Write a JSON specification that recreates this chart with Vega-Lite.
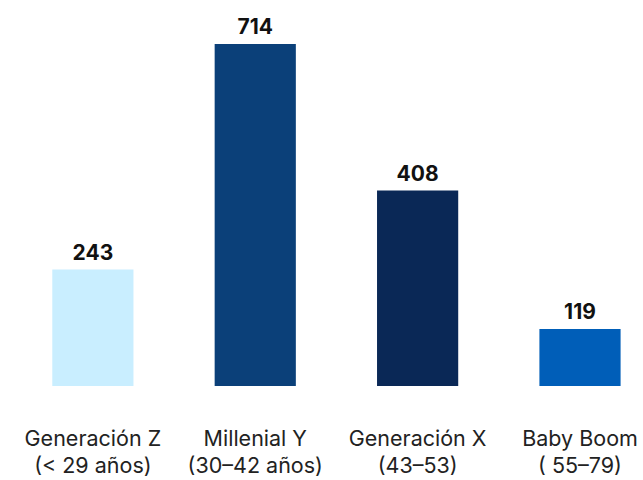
{
  "$schema": "https://vega.github.io/schema/vega-lite/v6.json",
  "width": 643,
  "height": 342,
  "autosize": {"type": "none"},
  "padding": {"top": 44, "left": 0, "right": 0, "bottom": 94},
  "background": "white",
  "config": {"view": {"stroke": null}, "font": "Inter"},
  "data": {
    "values": [
      {"label": "Generación Z|(< 29 años)", "value": 243, "color": "#c9eeff"},
      {"label": "Millenial Y|(30–42 años)", "value": 714, "color": "#0b4079"},
      {"label": "Generación X|(43–53)", "value": 408, "color": "#0a2856"},
      {"label": "Baby Boom|( 55–79)", "value": 119, "color": "#005eb8"}
    ]
  },
  "encoding": {
    "x": {
      "field": "label",
      "type": "nominal",
      "sort": null,
      "scale": {"paddingInner": 0.5, "paddingOuter": 0.23, "align": 0.7},
      "axis": {
        "title": null,
        "domain": false,
        "ticks": false,
        "labelAngle": 0,
        "labelExpr": "split(datum.label, '|')",
        "labelFontSize": 21.5,
        "labelColor": "#222222",
        "labelPadding": 42,
        "labelLineHeight": 27,
        "labelFont": "Inter"
      }
    },
    "y": {
      "field": "value",
      "type": "quantitative",
      "scale": {"domain": [0, 714], "nice": false},
      "axis": null
    }
  },
  "layer": [
    {
      "mark": {"type": "bar"},
      "encoding": {"color": {"field": "color", "type": "nominal", "scale": null}}
    },
    {
      "mark": {"type": "text", "baseline": "bottom", "dy": -6, "fontSize": 21, "fontWeight": "bold", "color": "#111111", "font": "Inter"},
      "encoding": {"text": {"field": "value", "type": "quantitative"}}
    }
  ]
}
